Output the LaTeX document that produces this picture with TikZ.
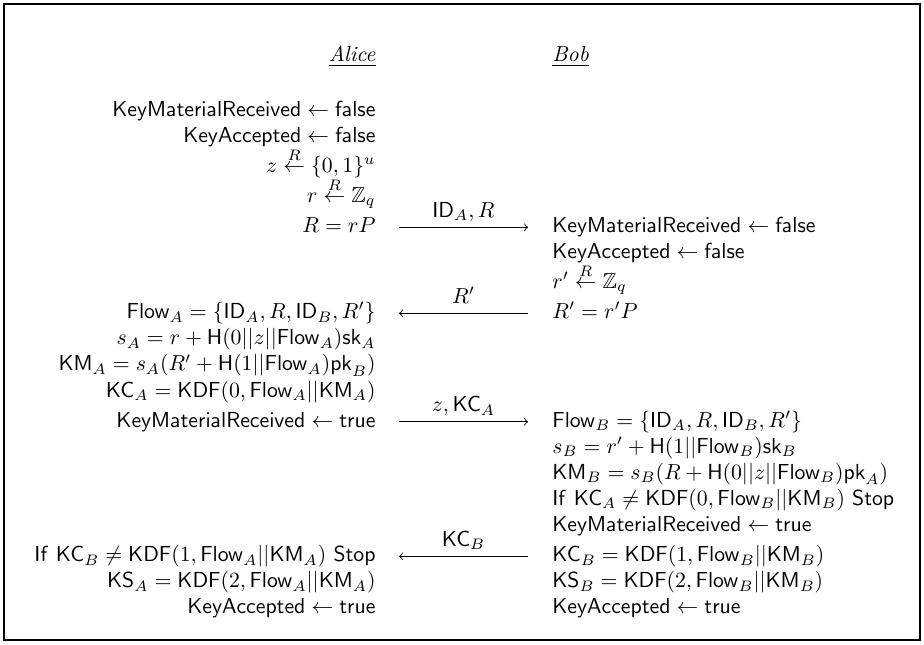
\documentclass[tikz,border=0pt]{standalone}
\usepackage{amssymb}
\begin{document}
\begin{tikzpicture}[x=1pt,y=-1pt,
  lstep/.style={anchor=base east,inner sep=0pt},
  rstep/.style={anchor=base west,inner sep=0pt},
  party/.style={inner sep=0pt},
  msg/.style={line width=0.4pt},
  msglabel/.style={anchor=base,inner sep=0pt,yshift=4.6pt},
  frame/.style={line width=0.9pt}]
% page and frame
\useasboundingbox (0,0) rectangle (425.2,296.4);
\draw[frame] (1.8,1.8) rectangle (423.4,294.6);

% column edges and message ends (x)
\def\xl{173.0}
\def\xr{254.0}
\def\ml{183.6}
\def\mr{243.0}

% party headers
\node[party,anchor=base east] (alice) at (\xl,28.5) {\underline{\emph{Alice}}};
\node[party,anchor=base west] (bob)   at (\xr,28.5) {\underline{\emph{Bob}}};

% Alice's steps
\node[lstep] (a1)  at (\xl,53.8)  {$\mathsf{KeyMaterialReceived} \leftarrow \mathsf{false}$};
\node[lstep] (a2)  at (\xl,65.8)  {$\mathsf{KeyAccepted} \leftarrow \mathsf{false}$};
\node[lstep] (a3)  at (\xl,79.5)  {$z \stackrel{R}{\leftarrow} \{0,1\}^u$};
\node[lstep] (a4)  at (\xl,93.2)  {$r \stackrel{R}{\leftarrow} \mathbb{Z}_q$};
\node[lstep] (a5)  at (\xl,107.1) {$R = rP$};
\node[lstep] (a8)  at (\xl,146.7) {$\mathsf{Flow}_A = \{\mathsf{ID}_A, R, \mathsf{ID}_B, R'\}$};
\node[lstep] (a9)  at (\xl,158.7) {$s_A = r + \mathsf{H}(0||z||\mathsf{Flow}_A)\mathsf{sk}_A$};
\node[lstep] (a10) at (\xl,170.7) {$\mathsf{KM}_A = s_A(R' + \mathsf{H}(1||\mathsf{Flow}_A)\mathsf{pk}_B)$};
\node[lstep] (a11) at (\xl,182.7) {$\mathsf{KC}_A = \mathsf{KDF}(0, \mathsf{Flow}_A||\mathsf{KM}_A)$};
\node[lstep] (a12) at (\xl,196.6) {$\mathsf{KeyMaterialReceived} \leftarrow \mathsf{true}$};
\node[lstep] (a17) at (\xl,258.5) {$\mathsf{If}\ \mathsf{KC}_B \neq \mathsf{KDF}(1, \mathsf{Flow}_A||\mathsf{KM}_A)\ \mathsf{Stop}$};
\node[lstep] (a18) at (\xl,270.5) {$\mathsf{KS}_A = \mathsf{KDF}(2, \mathsf{Flow}_A||\mathsf{KM}_A)$};
\node[lstep] (a19) at (\xl,282.5) {$\mathsf{KeyAccepted} \leftarrow \mathsf{true}$};

% Bob's steps
\node[rstep] (b5)  at (\xr,107.1) {$\mathsf{KeyMaterialReceived} \leftarrow \mathsf{false}$};
\node[rstep] (b6)  at (\xr,119.1) {$\mathsf{KeyAccepted} \leftarrow \mathsf{false}$};
\node[rstep] (b7)  at (\xr,132.8) {$r' \stackrel{R}{\leftarrow} \mathbb{Z}_q$};
\node[rstep] (b8)  at (\xr,146.7) {$R' = r'P$};
\node[rstep] (b12) at (\xr,196.6) {$\mathsf{Flow}_B = \{\mathsf{ID}_A, R, \mathsf{ID}_B, R'\}$};
\node[rstep] (b13) at (\xr,208.6) {$s_B = r' + \mathsf{H}(1||\mathsf{Flow}_B)\mathsf{sk}_B$};
\node[rstep] (b14) at (\xr,220.6) {$\mathsf{KM}_B = s_B(R + \mathsf{H}(0||z||\mathsf{Flow}_B)\mathsf{pk}_A)$};
\node[rstep] (b15) at (\xr,232.6) {$\mathsf{If}\ \mathsf{KC}_A \neq \mathsf{KDF}(0, \mathsf{Flow}_B||\mathsf{KM}_B)\ \mathsf{Stop}$};
\node[rstep] (b16) at (\xr,244.6) {$\mathsf{KeyMaterialReceived} \leftarrow \mathsf{true}$};
\node[rstep] (b17) at (\xr,258.5) {$\mathsf{KC}_B = \mathsf{KDF}(1, \mathsf{Flow}_B||\mathsf{KM}_B)$};
\node[rstep] (b18) at (\xr,270.5) {$\mathsf{KS}_B = \mathsf{KDF}(2, \mathsf{Flow}_B||\mathsf{KM}_B)$};
\node[rstep] (b19) at (\xr,282.5) {$\mathsf{KeyAccepted} \leftarrow \mathsf{true}$};

% message ends, on the math axis of each row
\coordinate (m1a) at (\ml,104.6);  \coordinate (m1b) at (\mr,104.6);
\coordinate (m2a) at (\ml,144.2);  \coordinate (m2b) at (\mr,144.2);
\coordinate (m3a) at (\ml,194.1);  \coordinate (m3b) at (\mr,194.1);
\coordinate (m4a) at (\ml,256.0);  \coordinate (m4b) at (\mr,256.0);

% messages
\draw[msg,->] (m1a) -- node[msglabel] (l1) {$\mathsf{ID}_A, R$} (m1b);
\draw[msg,->] (m2b) -- node[msglabel] (l2) {$R'$} (m2a);
\draw[msg,->] (m3a) -- node[msglabel] (l3) {$z, \mathsf{KC}_A$} (m3b);
\draw[msg,->] (m4b) -- node[msglabel] (l4) {$\mathsf{KC}_B$} (m4a);
\end{tikzpicture}
\end{document}
